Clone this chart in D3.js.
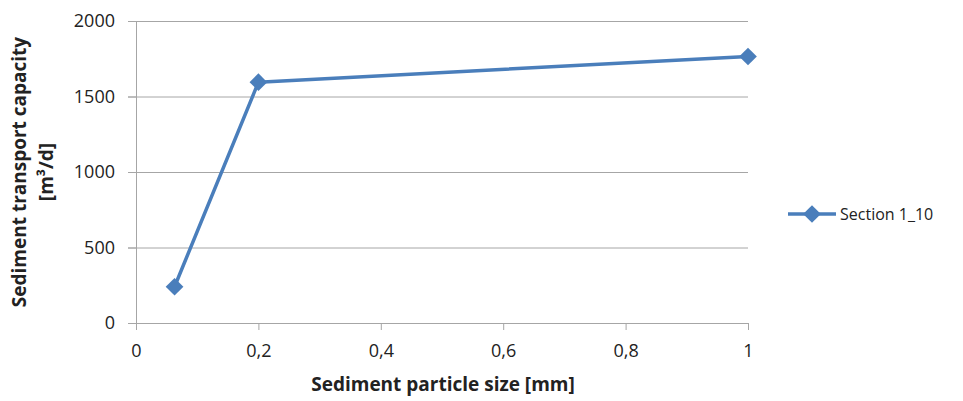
<!DOCTYPE html>
<html>
<head>
<meta charset="utf-8">
<script src="https://cdn.jsdelivr.net/npm/d3@7"></script>
<style>
  body { margin: 0; background: #fff; }
  text { font-family: "Open Sans", "Noto Sans", sans-serif; fill: #222; }
</style>
</head>
<body>
<div id="chart"></div>
<script>
// Chart data
const particleSize = [0.063, 0.2, 1];          // mm
const transportCapacity = [240, 1595, 1765];   // m3/d
const seriesName = "Section 1_10";
const xTicks = [0, 0.2, 0.4, 0.6, 0.8, 1];
const yTicks = [0, 500, 1000, 1500, 2000];

const config = {
    width: 963,
    height: 401,
    margin: { top: 21, right: 215, bottom: 78, left: 136 }
};

const width = config.width - config.margin.left - config.margin.right;
const height = config.height - config.margin.top - config.margin.bottom;
const blue = "#4a7ebb";

const svg = d3.select("#chart")
    .append("svg")
    .attr("width", config.width)
    .attr("height", config.height);

const g = svg.append("g")
    .attr("transform", `translate(${config.margin.left},${config.margin.top})`);

const xScale = d3.scaleLinear().domain([0, 1]).range([0, width]);
const yScale = d3.scaleLinear().domain([0, 2000]).range([height, 0]);

const fmt = d => String(d).replace(".", ",");

// gridlines (extend past the axis like tick marks)
g.append("g")
    .selectAll("line")
    .data(yTicks)
    .enter().append("line")
    .attr("x1", -8)
    .attr("x2", width)
    .attr("y1", d => yScale(d) + 0.5)
    .attr("y2", d => yScale(d) + 0.5)
    .attr("stroke", "#a6a6a6")
    .attr("stroke-width", 1);

// y axis
const yAxis = g.append("g")
    .call(d3.axisLeft(yScale).tickValues(yTicks).tickFormat(d3.format("d")).tickSize(8).tickPadding(13));
yAxis.select(".domain").attr("stroke", "#a6a6a6");
yAxis.selectAll(".tick line").attr("stroke", "#a6a6a6");
yAxis.selectAll("text").attr("font-size", "18px").attr("fill", "#222")
    .attr("font-family", "Open Sans, sans-serif");

// x axis
const xAxis = g.append("g")
    .attr("transform", `translate(0,${height})`)
    .call(d3.axisBottom(xScale).tickValues(xTicks).tickFormat(fmt).tickSize(7).tickPadding(14));
xAxis.select(".domain").remove();
xAxis.selectAll(".tick line").attr("stroke", "#a6a6a6");
xAxis.selectAll("text").attr("font-size", "18px").attr("fill", "#222")
    .attr("font-family", "Open Sans, sans-serif");

// series line
const points = particleSize.map((x, i) => ({ x: x, y: transportCapacity[i] }));
const line = d3.line().x(d => xScale(d.x)).y(d => yScale(d.y));

g.append("path")
    .datum(points)
    .attr("fill", "none")
    .attr("stroke", blue)
    .attr("stroke-width", 3.5)
    .attr("stroke-linejoin", "round")
    .attr("d", line);

const diamond = d3.symbol().type(d3.symbolDiamond2).size(200);
g.selectAll(".marker")
    .data(points)
    .enter().append("path")
    .attr("class", "marker")
    .attr("transform", d => `translate(${xScale(d.x)},${yScale(d.y)})`)
    .attr("d", diamond)
    .attr("fill", blue);

// axis titles
svg.append("text")
    .attr("x", config.margin.left + width / 2 + 1)
    .attr("y", 391)
    .attr("text-anchor", "middle")
    .attr("font-size", "19px")
    .attr("font-weight", "bold")
    .text("Sediment particle size [mm]");

const yTitle = svg.append("text")
    .attr("transform", "translate(26,172) rotate(-90)")
    .attr("text-anchor", "middle")
    .attr("font-size", "19px")
    .attr("font-weight", "bold");
yTitle.append("tspan").attr("x", 0).attr("y", 0).text("Sediment transport capacity");
yTitle.append("tspan").attr("x", 0).attr("y", 27).text("[m³/d]");

// legend
const legend = svg.append("g").attr("transform", "translate(788,214)");
legend.append("line")
    .attr("x1", 0).attr("x2", 48)
    .attr("stroke", blue).attr("stroke-width", 3.5);
legend.append("path")
    .attr("transform", "translate(24,0)")
    .attr("d", diamond)
    .attr("fill", blue);
legend.append("text")
    .attr("x", 52)
    .attr("y", 6)
    .attr("font-size", "16px")
    .text(seriesName);
</script>
</body>
</html>
